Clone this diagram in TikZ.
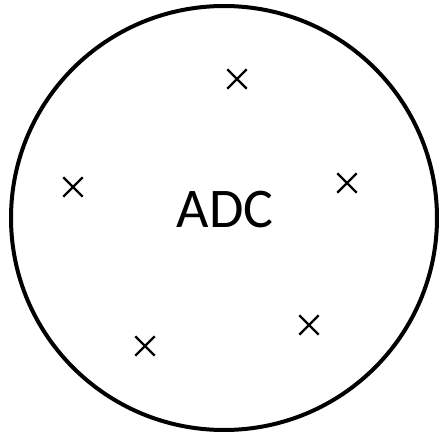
\documentclass[tikz,border=0pt]{standalone}
\usepackage{fontspec}
\setmainfont{Carlito}
\usetikzlibrary{shapes.misc,shapes.geometric}
\begin{document}
\begin{tikzpicture}[x=1pt,y=-1pt,
  xmark/.style={cross out,draw,line width=2.4pt,minimum size=17pt,inner sep=0pt}]
\useasboundingbox (0,0) rectangle (440,436);
\node[draw,ellipse,line width=4pt,minimum width=426pt,minimum height=424pt,inner sep=0pt] (adc) at (224,218) {};
\node[font=\fontsize{56}{60}\selectfont,inner sep=0pt,anchor=base] (lbl) at (225,228) {ADC};
\node[xmark] (x1) at (237,79) {};
\node[xmark] (x2) at (73,187) {};
\node[xmark] (x3) at (347,183) {};
\node[xmark] (x4) at (309,325) {};
\node[xmark] (x5) at (145,346) {};
\end{tikzpicture}
\end{document}
